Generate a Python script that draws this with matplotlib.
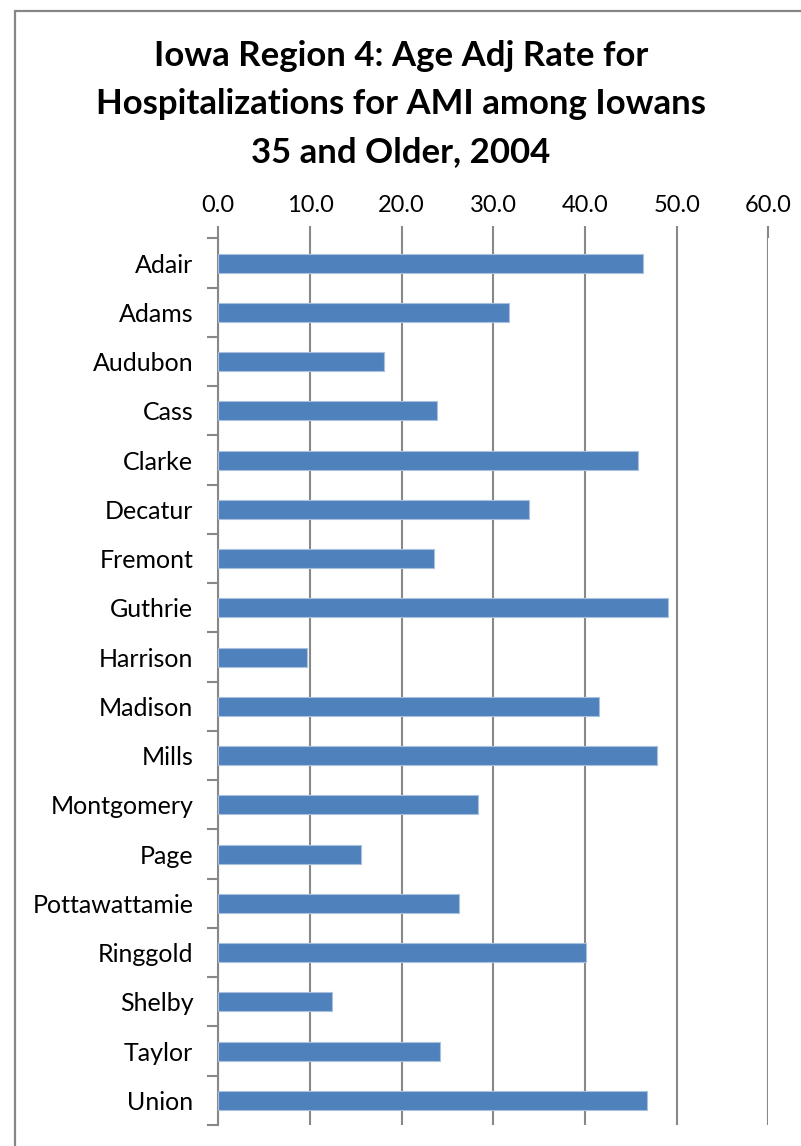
import numpy as np
import matplotlib
matplotlib.use("Agg")
import matplotlib.pyplot as plt
from matplotlib.patches import Rectangle

counties = ["Adair", "Adams", "Audubon", "Cass", "Clarke", "Decatur", "Fremont",
            "Guthrie", "Harrison", "Madison", "Mills", "Montgomery", "Page",
            "Pottawattamie", "Ringgold", "Shelby", "Taylor", "Union"]
rates = [46.3, 31.7, 18.1, 23.9, 45.8, 33.9, 23.5, 49.1, 9.7,
         41.5, 47.9, 28.3, 15.6, 26.3, 40.1, 12.4, 24.2, 46.8]
xticks = [0, 10, 20, 30, 40, 50, 60]

title = "Iowa Region 4: Age Adj Rate for\nHospitalizations for AMI among Iowans\n35 and Older, 2004"

plt.rcParams['font.family'] = ['Lato', 'DejaVu Sans']

W, H = 801, 1146
fig = plt.figure(figsize=(W / 100, H / 100), dpi=100)

# chart border (cropped on the right and bottom in the original)
fig.patches.append(Rectangle((15 / W, -0.1), 1.2, 1 - 11 / H + 0.1, transform=fig.transFigure,
                             fill=False, edgecolor='#868686', lw=1.6))

left, right, top, bottom = 218.3, 768.3, 238.4, 1125
ax = fig.add_axes([left / W, 1 - bottom / H, (right - left) / W, (bottom - top) / H])

n = len(counties)
pos = np.arange(n)
ax.barh(pos, rates, height=0.385, color='#4F81BD', edgecolor='#a9c0df', lw=0.8, zorder=3)

ax.set_xlim(0, 60)
ax.set_ylim(n - 0.5, -0.5)

ax.xaxis.tick_top()
ax.set_xticks(xticks)
ax.set_xticklabels([f"{v:.1f}" for v in xticks])
ax.tick_params(axis='x', length=9, width=1.5, color='#888888', pad=7, labelsize=17)
ax.grid(axis='x', color='#888888', lw=1.5, zorder=1)

ax.set_yticks(np.arange(n + 1) - 0.5)
ax.set_yticklabels([])
ax.set_yticks(pos, minor=True)
ax.set_yticklabels(counties, minor=True)
ax.tick_params(axis='y', which='major', length=8, width=1.5, color='#888888')
ax.tick_params(axis='y', which='minor', length=0, pad=18, labelsize=18)

for s in ['top', 'bottom', 'right']:
    ax.spines[s].set_visible(False)
ax.spines['left'].set_color('#888888')
ax.spines['left'].set_linewidth(1.5)

fig.text(401 / W, 1 - 104 / H, title, ha='center', va='center', fontsize=25,
         fontweight='bold', linespacing=1.6)

fig.savefig("out.png", dpi=100)
